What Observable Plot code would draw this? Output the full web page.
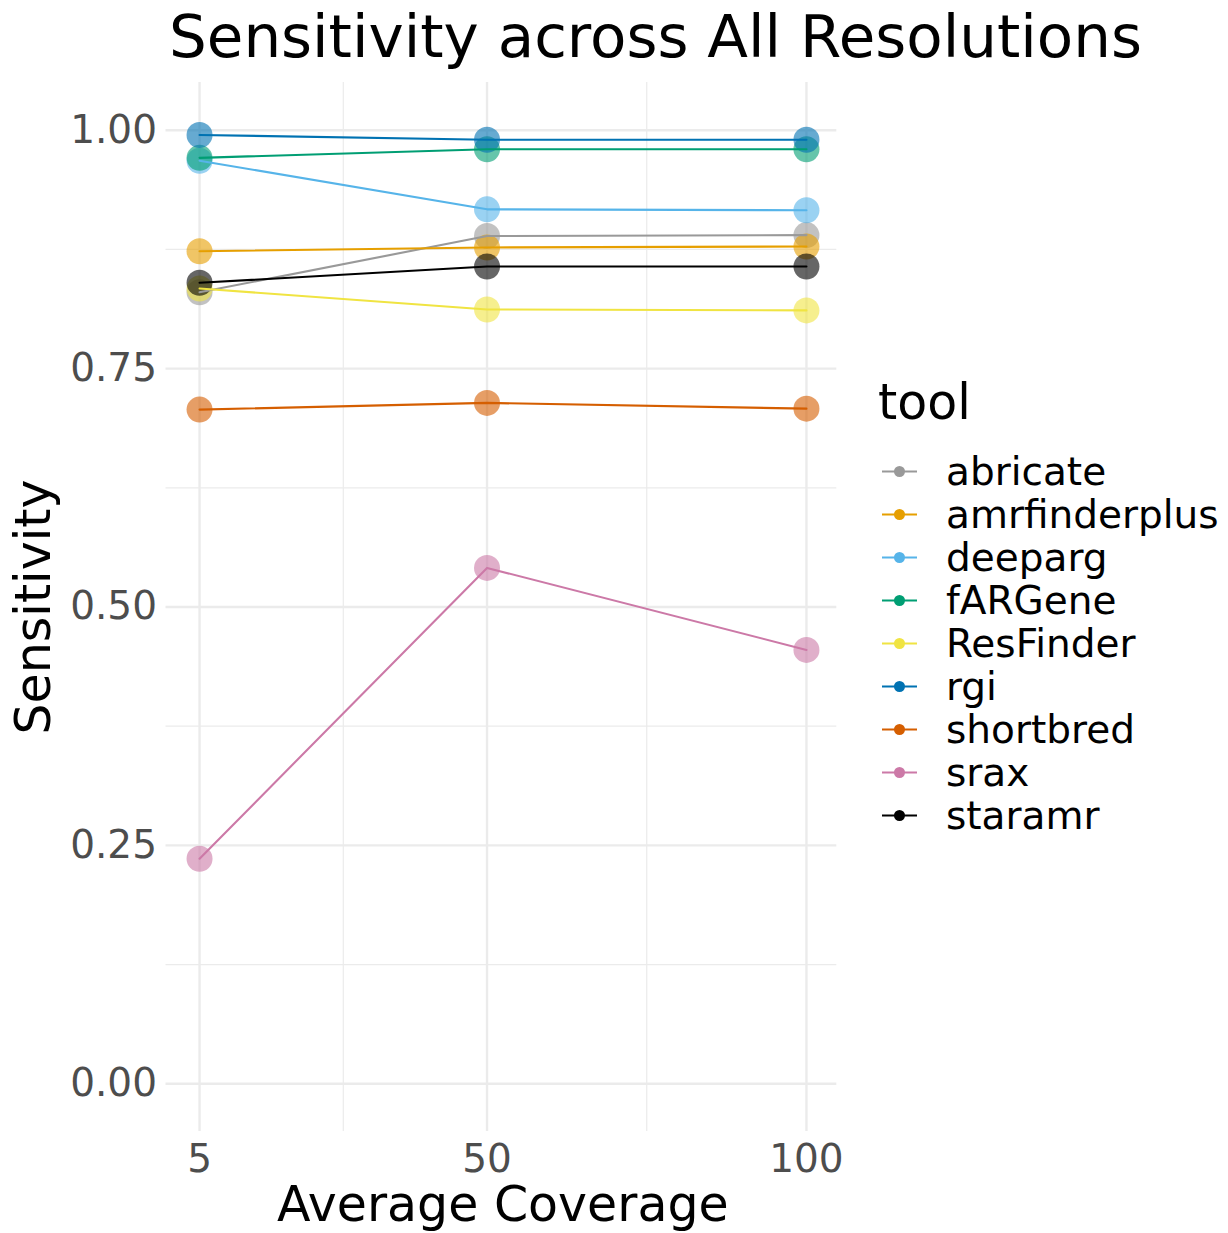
<!DOCTYPE html>
<html><head><meta charset="utf-8">
<script src="https://cdn.jsdelivr.net/npm/d3@7"></script>
<script src="https://cdn.jsdelivr.net/npm/@observablehq/plot@0.6"></script>
<style>
body{margin:0;background:#fff;font-family:"DejaVu Sans",sans-serif;}
#wrap{position:relative;width:1228px;height:1233px;overflow:hidden;}
#wrap svg{position:absolute;left:0;top:0;}
#title{position:absolute;left:169px;top:7px;font-size:59.5px;line-height:1;white-space:nowrap;color:#000;}
#legend{position:absolute;left:878px;top:377.5px;}
#legend .lt{font-size:49px;line-height:1;height:72px;color:#000;}
#legend .row{display:flex;align-items:center;height:43px;}
#legend .row svg{position:static;width:36px;height:43px;margin-left:4px;}
#legend .row span{font-size:39px;line-height:43px;margin-left:28px;color:#000;white-space:nowrap;}
</style></head><body>
<div id="wrap"><div id="title">Sensitivity across All Resolutions</div><div id="legend"></div></div>
<script>
const coverage = [5, 50, 100];
const tools = ["abricate","amrfinderplus","deeparg","fARGene","ResFinder","rgi","shortbred","srax","staramr"];
const colors = ["#999999","#E69F00","#56B4E9","#009E73","#F0E442","#0072B2","#D55E00","#CC79A7","#000000"];
const abricate      = [0.830, 0.889, 0.890];
const amrfinderplus = [0.873, 0.877, 0.878];
const deeparg       = [0.968, 0.917, 0.916];
const fARGene       = [0.971, 0.980, 0.980];
const ResFinder     = [0.834, 0.812, 0.811];
const rgi           = [0.995, 0.990, 0.990];
const shortbred     = [0.707, 0.714, 0.708];
const srax          = [0.236, 0.541, 0.455];
const staramr       = [0.840, 0.857, 0.857];
const yTicks = [0, 0.25, 0.5, 0.75, 1];
const yMinor = [0.125, 0.375, 0.625, 0.875];
const xTicks = [5, 50, 100];
const xMinor = [27.5, 75];

const series = {abricate, amrfinderplus, deeparg, fARGene, ResFinder, rgi, shortbred, srax, staramr};
const rows = [];
for (const t of tools) series[t].forEach((v, i) => rows.push({tool: t, coverage: coverage[i], value: v}));

const chart = Plot.plot({
  width: 1228, height: 1233,
  marginLeft: 165.5, marginRight: 391.7, marginTop: 82, marginBottom: 102,
  x: {domain: [-0.25, 104.75]},
  y: {domain: [-0.05, 1.05]},
  color: {domain: tools, range: colors},
  style: {fontFamily: "DejaVu Sans", background: "white", overflow: "visible"},
  marks: [
    Plot.ruleY(yMinor, {stroke: "#EBEBEB", strokeWidth: 1.2}),
    Plot.ruleX(xMinor, {stroke: "#EBEBEB", strokeWidth: 1.2}),
    Plot.ruleY(yTicks, {stroke: "#EBEBEB", strokeWidth: 2.4}),
    Plot.ruleX(xTicks, {stroke: "#EBEBEB", strokeWidth: 2.4}),
    Plot.axisY(yTicks, {tickSize: 0, tickPadding: 9, tickFormat: d3.format(".2f"), fontSize: 39, fill: "#4D4D4D", label: null}),
    Plot.axisX(xTicks, {tickSize: 0, tickPadding: 13, tickFormat: d => String(d), fontSize: 39, fill: "#4D4D4D", label: null}),
    Plot.dot(rows, {x: "coverage", y: "value", fill: "tool", r: 13, fillOpacity: 0.6}),
    Plot.line(rows, {x: "coverage", y: "value", stroke: "tool", z: "tool", strokeWidth: 2.1}),
    Plot.text(["Average Coverage"], {text: d => d, frameAnchor: "bottom", lineAnchor: "top", textAnchor: "middle", dx: 1.5, dy: 55, fontSize: 49, fill: "black"}),
    Plot.text(["Sensitivity"], {text: d => d, frameAnchor: "left", rotate: -90, textAnchor: "middle", dx: -132, fontSize: 49, fill: "black"})
  ]
});
document.getElementById("wrap").prepend(chart);

const legend = document.getElementById("legend");
const lt = document.createElement("div"); lt.className = "lt"; lt.textContent = "tool"; legend.appendChild(lt);
tools.forEach((t, i) => {
  const row = document.createElement("div"); row.className = "row";
  row.innerHTML = `<svg viewBox="0 0 36 43"><line x1="0" x2="35" y1="21.5" y2="21.5" stroke="${colors[i]}" stroke-width="2.2"/><circle cx="17.5" cy="21.5" r="5.5" fill="${colors[i]}"/></svg><span>${t}</span>`;
  legend.appendChild(row);
});
</script>
</body></html>
